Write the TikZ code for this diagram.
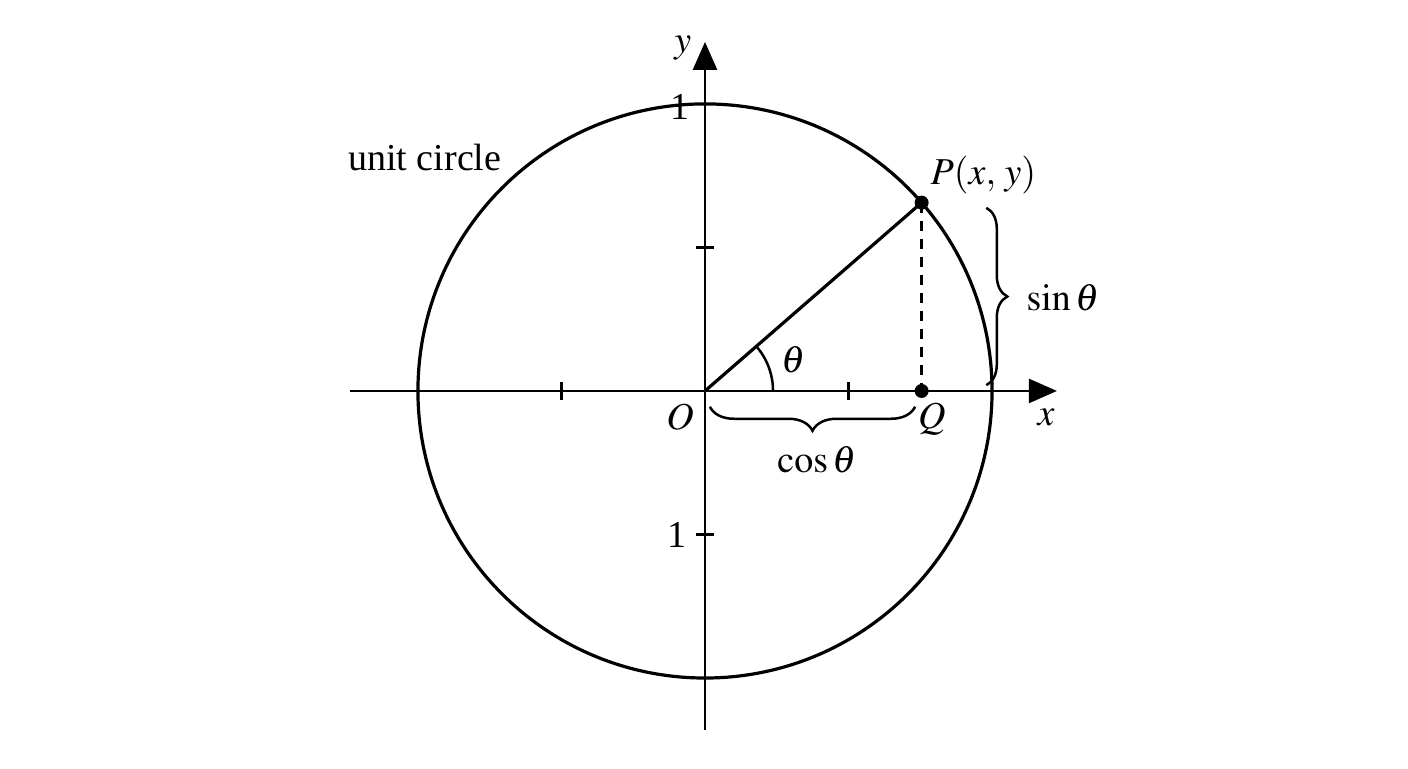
\documentclass[tikz,border=0pt]{standalone}
\usepackage{mathptmx}
\usepackage{fontspec}
\setmainfont{Liberation Serif}
\usepackage{tikz}
\usetikzlibrary{decorations.pathreplacing,calc,positioning,arrows.meta}

\begin{document}
\begin{tikzpicture}[x=143.5pt,y=143.5pt,line width=1.25pt,
    every node/.style={font=\fontsize{19}{23}\selectfont},
    axis/.style={-{Stealth[length=14pt,width=12pt,inset=0pt]}},
    dot/.style={circle,fill,inner sep=0pt,minimum size=7pt},
    brc/.style={decorate,decoration={brace,amplitude=#1}}]
    \useasboundingbox (-2.456,-1.314) rectangle (2.449,1.362);
    \coordinate (O) at (0,0);
    \coordinate (P) at (41:1);
    \coordinate (Q) at (P |- O);
    % circle and axes
    \draw[line width=1.6pt] (O) circle (1);
    \draw[axis] (-1.237,0) -- (1.226,0);
    \draw[axis] (0,-1.181) -- (0,1.216);
    \foreach \t in {-0.5,0.5} {
        \draw (\t,-0.03) -- (\t,0.03);
        \draw (-0.03,\t) -- (0.03,\t);
    }
    % labels
    \node (xlab) at (1.188,-0.094) {$x$};
    \node (ylab) at (-0.077,1.195) {$y$};
    \node (olab) at (-0.087,-0.09) {$O$};
    \node (one1) at (-0.087,0.99) {1};
    \node (one2) at (-0.097,-0.5) {1};
    \node (ulab) at (-0.976,0.812) {unit circle};
    % radius, projection, angle
    \draw[line width=1.6pt] (O) -- (P);
    \draw[dash pattern=on 5pt off 4pt] (P) -- (Q);
    \draw (0.237,0) arc (0:41:0.237);
    \node (tlab) at (0.307,0.108) {$\theta$};
    \node[dot] (pdot) at (P) {};
    \node[dot] (qdot) at (Q) {};
    \node[anchor=south west,inner sep=1pt] (plab) at ($(P)+(0.02,0.02)$) {$P(x,\,y)$};
    \node (qlab) at (0.79,-0.1) {$Q$};
    % braces
    \draw[brc=12pt] (0.732,-0.055) -- (0.017,-0.055);
    \node (clab) at (0.39,-0.24) {$\cos\theta$};
    \draw[brc=10.5pt] (0.98,0.638) -- (0.98,0.02);
    \node (slab) at (1.247,0.324) {$\sin\theta$};
\end{tikzpicture}
\end{document}
